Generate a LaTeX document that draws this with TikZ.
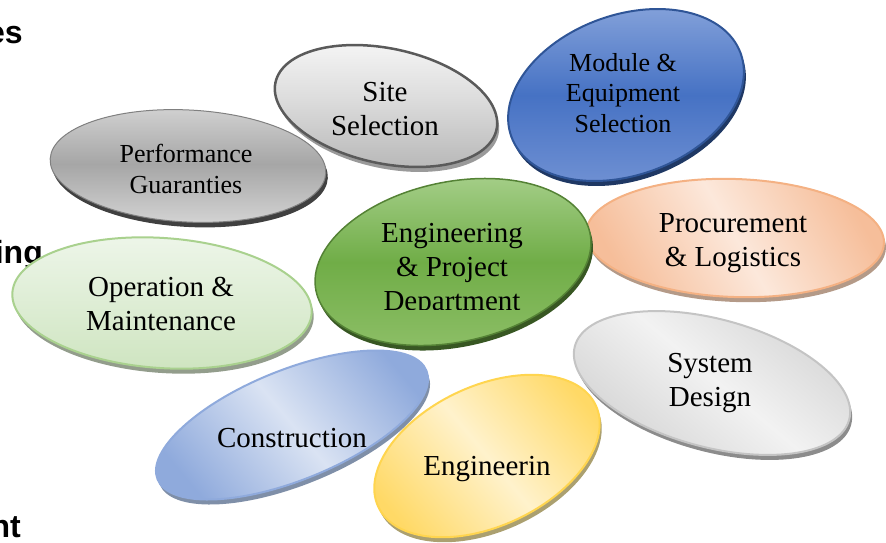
\documentclass[tikz,border=0pt]{standalone}
\usepackage{fontspec}
\setmainfont{Liberation Serif}
\newfontfamily\fragfont{Liberation Sans}
\usetikzlibrary{shapes.geometric}

% fills, outlines and shadows of the ellipses
\definecolor{perfTop}{HTML}{D2D2D2}\definecolor{perfMid}{HTML}{A6A6A6}\definecolor{perfLine}{HTML}{808080}\definecolor{perfShadow}{HTML}{404040}
\definecolor{siteTop}{HTML}{F7F7F7}\definecolor{siteMid}{HTML}{DCDCDC}\definecolor{siteBot}{HTML}{BBBBBB}\definecolor{siteLine}{HTML}{5A5A5A}\definecolor{siteShadow}{HTML}{9A9A9A}
\definecolor{modTop}{HTML}{8AA6DC}\definecolor{modMid}{HTML}{4672C4}\definecolor{modBot}{HTML}{7393D4}\definecolor{modLine}{HTML}{2F5597}\definecolor{modShadow}{HTML}{1F3864}
\definecolor{procEdge}{HTML}{F6BE9A}\definecolor{procMid}{HTML}{FCE8DB}\definecolor{procLine}{HTML}{F4B183}\definecolor{procShadow}{HTML}{B49A88}
\definecolor{sysEdge}{HTML}{D4D4D4}\definecolor{sysMid}{HTML}{F2F2F2}\definecolor{sysLine}{HTML}{C4C4C4}\definecolor{sysShadow}{HTML}{8C8C8C}
\definecolor{engEdge}{HTML}{FFD966}\definecolor{engMid}{HTML}{FFF2CC}\definecolor{engLine}{HTML}{FFD54F}\definecolor{engShadow}{HTML}{ABA070}
\definecolor{conEdge}{HTML}{8FAADC}\definecolor{conMid}{HTML}{DAE3F3}\definecolor{conLine}{HTML}{8FAADC}\definecolor{conShadow}{HTML}{7F8FA8}
\definecolor{opsTop}{HTML}{EEF6EA}\definecolor{opsBot}{HTML}{CFE5C1}\definecolor{opsLine}{HTML}{A9D18E}\definecolor{opsShadow}{HTML}{939D8C}
\definecolor{ctrTop}{HTML}{A9D18E}\definecolor{ctrMid}{HTML}{70AD47}\definecolor{ctrBot}{HTML}{8FC069}\definecolor{ctrLine}{HTML}{548235}\definecolor{ctrShadow}{HTML}{385723}

\begin{document}
\begin{tikzpicture}[x=1pt,y=-1pt,
  blob/.style={ellipse, inner sep=0pt, line width=2pt},
  blobshadow/.style={ellipse, inner sep=0pt, draw=none},
  bigtxt/.style={font=\fontsize{29}{34}\selectfont, align=center, inner sep=0pt},
  smalltxt/.style={font=\fontsize{26}{30.5}\selectfont, align=center, inner sep=0pt},
  fragtxt/.style={font=\fragfont\bfseries\fontsize{32}{38}\selectfont, inner sep=0pt, anchor=base east}]
\useasboundingbox (0,0) rectangle (886,542);
\clip (0,0) rectangle (886,542);

% cut-off words at the left border
\node[fragtxt] (fragA) at (23,43) {es};
\node[fragtxt] (fragB) at (43,263) {ing};
\node[fragtxt] (fragC) at (21,537) {nt};

% System Design
\node[blobshadow, fill=sysShadow, minimum width=284pt, minimum height=128pt, rotate=-15] (sysS) at (714,388) {};
\node[blob, draw=sysLine, top color=sysEdge, bottom color=sysEdge, middle color=sysMid, shading angle=-40, minimum width=284pt, minimum height=128pt, rotate=-15] (sys) at (712,383) {};
\node[bigtxt] (sysT) at (710,383) {System\\Design};

% Engineerin
\node[blobshadow, fill=engShadow, minimum width=240pt, minimum height=140pt, rotate=25] (engS) at (489,461) {};
\node[blob, draw=engLine, top color=engEdge, bottom color=engEdge, middle color=engMid, shading angle=-50, minimum width=240pt, minimum height=140pt, rotate=25] (eng) at (487,456) {};
\node[bigtxt] (engT) at (487,469) {Engineerin};

% Operation & Maintenance
\node[blobshadow, fill=opsShadow, minimum width=300pt, minimum height=130pt, rotate=-4] (opsS) at (164,308) {};
\node[blob, draw=opsLine, top color=opsTop, bottom color=opsBot, minimum width=300pt, minimum height=130pt, rotate=-4] (ops) at (162,303) {};
\node[bigtxt] (opsT) at (161,304) {Operation \&\\Maintenance};

% Construction
\node[blobshadow, fill=conShadow, minimum width=290pt, minimum height=110pt, rotate=22] (conS) at (294,430) {};
\node[blob, draw=conLine, top color=conEdge, bottom color=conEdge, middle color=conMid, shading angle=-50, minimum width=290pt, minimum height=110pt, rotate=22] (con) at (292,425) {};
\node[bigtxt] (conT) at (292,438) {Construction};

% Performance Guaranties
\node[blobshadow, fill=perfShadow, minimum width=276pt, minimum height=112pt, rotate=-3] (perfS) at (190,171) {};
\node[blob, line width=1pt, draw=perfLine, top color=perfTop, bottom color=perfTop, middle color=perfMid, minimum width=276pt, minimum height=112pt, rotate=-3] (perf) at (188,166) {};
\node[smalltxt] (perfT) at (186,169) {Performance\\Guaranties};

% Site Selection
\node[blobshadow, fill=siteShadow, minimum width=226pt, minimum height=115pt, rotate=-12] (siteS) at (388,111) {};
\node[blob, line width=2.5pt, draw=siteLine, top color=siteTop, bottom color=siteBot, middle color=siteMid, minimum width=226pt, minimum height=115pt, rotate=-12] (site) at (386,106) {};
\node[bigtxt] (siteT) at (385,109) {Site\\Selection};

% Module & Equipment Selection
\node[blobshadow, fill=modShadow, minimum width=244pt, minimum height=160pt, rotate=20] (modS) at (628,100) {};
\node[blob, draw=modLine, top color=modTop, bottom color=modBot, middle color=modMid, minimum width=244pt, minimum height=160pt, rotate=20] (mod) at (626,95) {};
\node[smalltxt] (modT) at (623,93) {Module \&\\Equipment\\Selection};

% Procurement & Logistics
\node[blobshadow, fill=procShadow, minimum width=298pt, minimum height=118pt, rotate=-2] (procS) at (737,243) {};
\node[blob, draw=procLine, top color=procEdge, bottom color=procEdge, middle color=procMid, shading angle=-60, minimum width=298pt, minimum height=118pt, rotate=-2] (proc) at (735,238) {};
\node[bigtxt] (procT) at (733,243) {Procurement\\\& Logistics};

% Engineering & Project Department (text cut at the bottom)
\node[blobshadow, fill=ctrShadow, minimum width=280pt, minimum height=160pt, rotate=12] (ctrS) at (455,267) {};
\node[blob, line width=1.5pt, draw=ctrLine, top color=ctrTop, bottom color=ctrBot, middle color=ctrMid, minimum width=280pt, minimum height=160pt, rotate=12] (ctr) at (453,262) {};
\begin{scope}
  \clip (300,200) rectangle (610,309);
  \node[bigtxt] (ctrT) at (452,270) {Engineering\\\& Project\\Department};
\end{scope}

\end{tikzpicture}
\end{document}
